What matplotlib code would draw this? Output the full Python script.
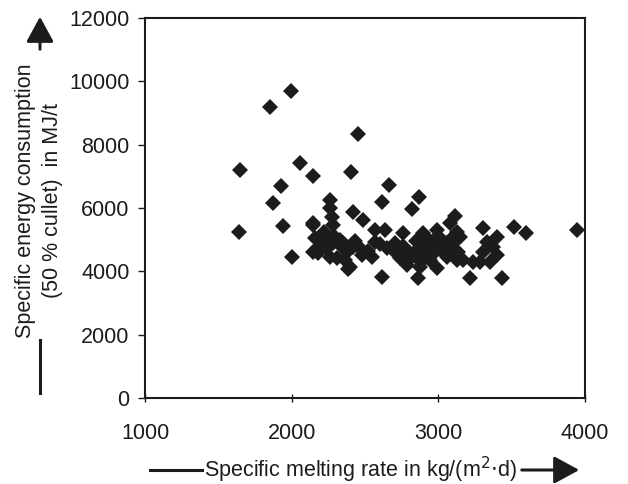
import matplotlib.pyplot as plt
from matplotlib.lines import Line2D

plt.rcParams['font.family'] = ['Liberation Sans', 'DejaVu Sans']

# melting rate kg/(m2 d) and energy MJ/t
rate = [1648, 1641, 1852, 1995, 2057, 2145, 1927, 1873, 1941, 2002,
        2452, 2405, 2664, 2616, 2868, 2820, 3114, 2261, 2261, 2418,
        2486, 2616, 2861, 2384, 3216, 3434, 3516, 3598, 3945, 2145,
        2275, 2282, 2145, 2159, 2145, 2180, 2241, 2282, 2330, 2350,
        2241, 2309, 2418, 2480, 2548, 2398, 2364, 2568,
        2636, 2568, 2705, 2759, 2739, 2827, 2895, 2991, 3080, 2943,
        3011, 3080, 3100, 3059, 2943, 2875, 2786, 2807, 2991, 3127,
        2875, 3305, 3400, 3373, 3332, 3305, 3400, 3352, 3284, 3127,
        3100, 3134, 3168, 3236, 3148, 2350, 2380, 2430, 2260, 2200,
        2900, 2960, 3030, 2850, 2800, 2920, 3000, 2700, 2650, 2760,
        3050, 2880, 2220, 2290, 2470, 2520, 2600, 2960, 2830]
energy = [7200, 5240, 9190, 9700, 7420, 7010, 6700, 6160, 5430, 4450,
          8340, 7140, 6730, 6190, 6350, 5970, 5750, 6250, 6000, 5870,
          5620, 3820, 3790, 4070, 3790, 3790, 5400, 5210, 5310, 5530,
          5720, 5460, 5460, 5050, 4610, 4580, 4990, 4890, 4990, 4740,
          4740, 4420, 4770, 4520, 4450, 4140, 4360, 5310,
          5310, 4930, 4900, 5210, 4420, 4520, 5210, 5310, 5530, 4890,
          4770, 4990, 4670, 4450, 4360, 4140, 4200, 4580, 4110, 4360,
          4770, 5370, 5080, 4770, 4930, 4610, 4520, 4300, 4300, 5240,
          4890, 4610, 4360, 4300, 5080, 4900, 4600, 4950, 4450, 4800,
          4600, 4500, 4600, 4950, 4400, 5050, 5100, 4650, 4750, 4800,
          4900, 4300, 5250, 5100, 4700, 4650, 4850, 4800, 4550]

xticks = [1000, 2000, 3000, 4000]
yticks = [0, 2000, 4000, 6000, 8000, 10000, 12000]

ink = '#1c1c1c'
fs = 15.5

fig = plt.figure(figsize=(6.28, 4.84), dpi=100)
ax = fig.add_axes([0.2309, 0.1777, 0.7006, 0.7851])

ax.plot(rate, energy, 'D', color=ink, markersize=8, markeredgewidth=0, linestyle='none')

ax.set_xlim(1000, 4000)
ax.set_ylim(0, 12000)
ax.set_xticks(xticks)
ax.set_yticks(yticks)
ax.tick_params(axis='x', direction='inout', length=6, width=1, pad=15,
               labelsize=fs, colors=ink)
ax.tick_params(axis='y', direction='out', length=5, width=1, pad=6,
               labelsize=fs, colors=ink)
for s in ax.spines.values():
    s.set_linewidth(1.5)
    s.set_color(ink)

# y axis label with arrow
fig.text(39 / 628, 1 - 201 / 484, 'Specific energy consumption\n(50 % cullet)  in MJ/t',
         rotation=90, ha='center', va='center', fontsize=fs, color=ink,
         linespacing=1.4)
ax.annotate('', xy=(40, 484 - 14), xytext=(40, 484 - 52), xycoords='figure pixels',
            textcoords='figure pixels',
            arrowprops=dict(arrowstyle='-|>,head_length=0.55,head_width=0.3',
                            lw=2.2, color=ink, mutation_scale=28))
fig.add_artist(Line2D([40 / 628, 40 / 628], [1 - 393 / 484, 1 - 340 / 484],
                      color=ink, lw=2.2))

# x axis label with arrow
fig.text(360 / 628, 1 - 470 / 484, 'Specific melting rate in kg/(m$^2$$\\cdot$d)',
         ha='center', va='center', fontsize=fs, color=ink)
fig.add_artist(Line2D([150 / 628, 202 / 628], [1 - 470 / 484, 1 - 470 / 484],
                      color=ink, lw=2.2))
ax.annotate('', xy=(582, 484 - 470), xytext=(519, 484 - 470), xycoords='figure pixels',
            textcoords='figure pixels',
            arrowprops=dict(arrowstyle='-|>,head_length=0.55,head_width=0.3',
                            lw=2.2, color=ink, mutation_scale=28))

fig.savefig('out.png', dpi=100)
